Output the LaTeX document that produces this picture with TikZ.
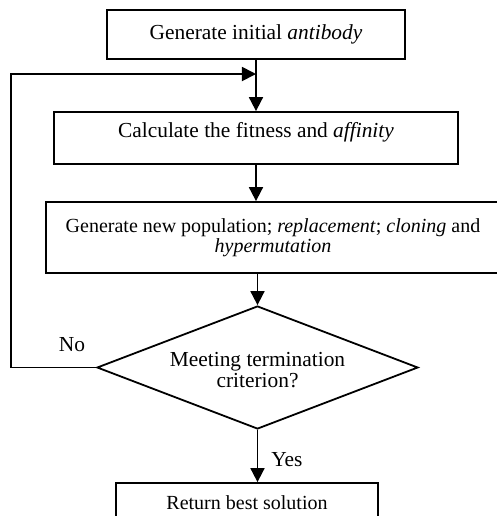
\documentclass[tikz,border=0pt]{standalone}
\usepackage{fontspec}
\setmainfont{Liberation Serif}
\usetikzlibrary{shapes.geometric,arrows.meta}

\tikzset{
    stepbox/.style={draw,line width=0.9pt,inner sep=0pt,align=center},
    test/.style={draw,diamond,line width=0.9pt,inner sep=0pt,aspect=2.6,
        minimum width=160.5pt,minimum height=61.5pt,align=center},
    arr/.style={line width=0.9pt,-{Triangle[length=7pt,width=7pt]}}
}

\begin{document}
\begin{tikzpicture}[x=0.5pt,y=-0.5pt,font=\fontsize{10.7}{10.8}\selectfont]
    \clip (0,0) rectangle (497,516);

    % Steps
    \node[stepbox,minimum width=149pt,minimum height=24.5pt] (init) at (256,34.5) {Generate initial \textit{antibody}};
    \node[stepbox,minimum width=202pt,text height=12.5pt,text depth=13.5pt] (fit) at (256,138) {Calculate the fitness and \textit{affinity}};
    \node[stepbox,minimum width=227pt,minimum height=35.5pt,font=\fontsize{10}{10}\selectfont] (newpop) at (273,237.5)
        {Generate new population; \textit{replacement}; \textit{cloning} and\\ \textit{hypermutation}};
    \node[test] (stop) at (257.5,367.5) {\\[-1pt]Meeting termination\\ criterion?};
    \node[stepbox,minimum width=131pt,minimum height=20pt,font=\fontsize{10}{12}\selectfont] (best) at (247,503) {Return best solution};

    % Loop back points
    \coordinate (loop) at (11,74);
    \coordinate (merge) at (256,74);

    % Arrows
    \draw[arr] (init) -- (fit);
    \draw[arr] (fit.south) -- (fit.south |- newpop.north);
    \draw[arr] (stop.north |- newpop.south) -- (stop.north);
    \draw[arr] (stop.south) -- (stop.south |- best.north);
    \draw[arr] (stop.west) -| (loop) -- (merge);

    % Labels
    \node (no) at (72,345) {No};
    \node (yes) at (287,460) {Yes};

\end{tikzpicture}
\end{document}
